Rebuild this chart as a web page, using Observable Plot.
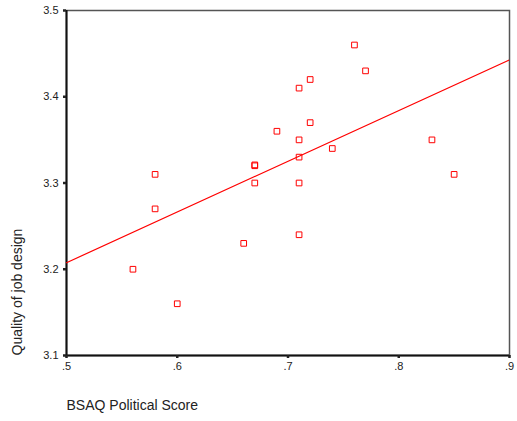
<!DOCTYPE html>
<html><head><meta charset="utf-8">
<script src="https://cdn.jsdelivr.net/npm/d3@7"></script>
<script src="https://cdn.jsdelivr.net/npm/@observablehq/plot@0.6"></script>
<style>body{margin:0;background:#fff}</style>
</head><body><div id="chart"></div>
<script>
const political = [0.56,0.58,0.58,0.60,0.66,0.67,0.67,0.67,0.69,0.71,0.71,0.71,0.71,0.71,0.72,0.72,0.74,0.76,0.77,0.83,0.85];
const quality   = [3.20,3.31,3.27,3.16,3.23,3.32,3.321,3.30,3.36,3.41,3.35,3.33,3.30,3.24,3.42,3.37,3.34,3.46,3.43,3.35,3.31];
const xTicks = [0.5,0.6,0.7,0.8,0.9];
const yTicks = [3.1,3.2,3.3,3.4,3.5];
const xDomain = [0.5,0.9];
const yDomain = [3.1,3.5];
const xLabel = "BSAQ Political Score";
const yLabel = "Quality of job design";

const data = political.map((x,i)=>({x, y: quality[i]}));
const mx = d3.mean(political), my = d3.mean(quality);
const slope = d3.sum(data, d=>(d.x-mx)*(d.y-my)) / d3.sum(data, d=>(d.x-mx)**2);
const intercept = my - slope*mx;
const fit = xDomain.map(x=>({x, y: intercept + slope*x}));

const chart = Plot.plot({
  width: 517, height: 421,
  marginLeft: 66, marginRight: 8, marginTop: 10, marginBottom: 66,
  style: {fontFamily: "'Liberation Sans', Arial, sans-serif", fontSize: "11px", color: "#222", background: "#fff"},
  x: {domain: xDomain},
  y: {domain: yDomain},
  marks: [
    Plot.frame({stroke: "#555", strokeWidth: 1.5}),
    Plot.ruleY([yDomain[0]], {stroke: "#111", strokeWidth: 2}),
    Plot.ruleX([xDomain[0]], {stroke: "#111", strokeWidth: 2}),
    Plot.axisX({ticks: xTicks, tickSize: 3, strokeWidth: 2.5, tickPadding: 4,
      tickFormat: d => d3.format(".1f")(d).replace(/^0/, ""), label: null}),
    Plot.axisY({ticks: yTicks, tickSize: 3, strokeWidth: 2.5, tickPadding: 5,
      tickFormat: d3.format(".1f"), label: null}),
    Plot.text([xLabel], {frameAnchor: "bottom-left", text: d => d, dy: 54, textAnchor: "start", fontSize: 14, fill: "#222"}),
    Plot.text([yLabel], {frameAnchor: "bottom-left", text: d => d, dx: -45, rotate: -90, textAnchor: "start", fontSize: 14, fill: "#222"}),
    Plot.line(fit, {x: "x", y: "y", stroke: "#f00", strokeWidth: 1.2, clip: true}),
    Plot.dot(data, {x: "x", y: "y", symbol: "square", r: 3.2, stroke: "#f00", strokeWidth: 1, fill: "none"})
  ]
});
document.getElementById("chart").appendChild(chart);
</script>
</body></html>
